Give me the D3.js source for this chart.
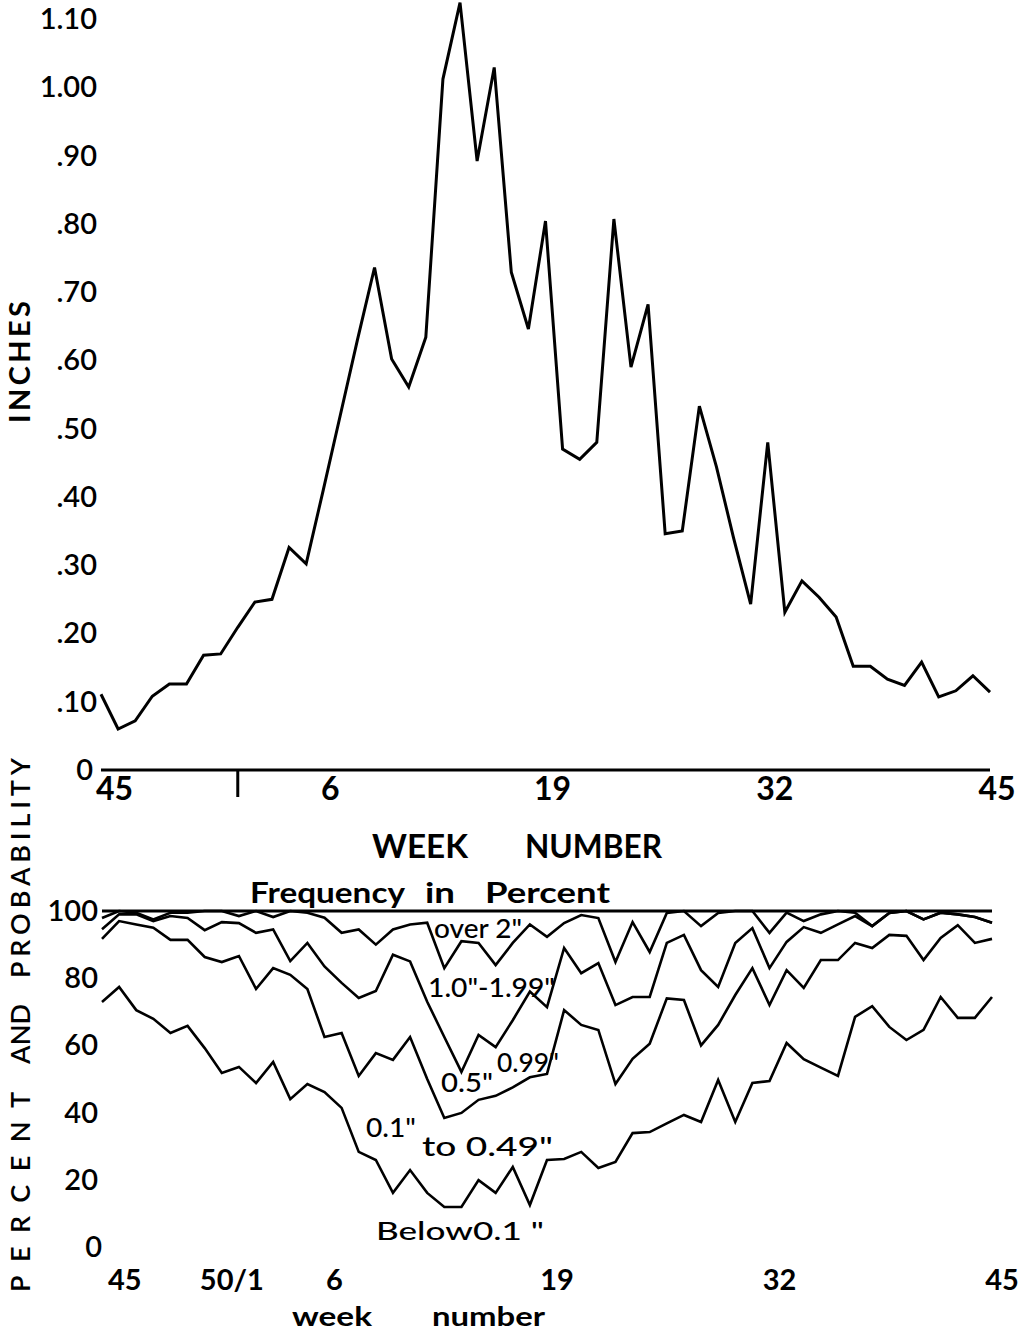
<!DOCTYPE html>
<html><head><meta charset="utf-8">
<script src="https://cdn.jsdelivr.net/npm/d3@7"></script>
<style>
html,body{margin:0;padding:0;background:#fff;}
text{font-family:Lato,"DejaVu Sans",sans-serif;fill:#000;}
</style></head>
<body>
<svg id="chart" width="1032" height="1333"></svg>
<script>
// ---- data ----
const weeks = [45,46,47,48,49,50,51,52,1,2,3,4,5,6,7,8,9,10,11,12,13,14,15,16,17,18,19,20,21,22,23,24,25,26,27,28,29,30,31,32,33,34,35,36,37,38,39,40,41,42,43,44,45];
const inches = [0.111,0.060,0.072,0.108,0.126,0.126,0.168,0.170,0.209,0.246,0.250,0.326,0.302,0.41,0.52,0.63,0.736,0.602,0.561,0.634,1.012,1.124,0.892,1.029,0.729,0.646,0.804,0.470,0.455,0.480,0.807,0.590,0.682,0.346,0.350,0.533,0.444,0.34,0.243,0.480,0.231,0.277,0.253,0.224,0.152,0.152,0.133,0.124,0.158,0.107,0.116,0.138,0.114];
// cumulative percent frequency boundaries
const below01 = [72.9,77.4,70.5,67.9,63.7,65.8,59.2,51.8,53.6,48.8,55.1,44.0,48.5,46.1,41.4,28.3,25.9,16.1,22.9,16.1,11.9,11.9,19.9,16.1,23.8,12.5,25.9,26.2,28.3,23.5,25.3,33.9,34.2,36.8,39.3,37.2,49.7,37.2,48.8,49.4,60.7,55.9,53.4,50.9,68.5,71.7,65.5,61.6,64.6,74.4,68.2,68.2,74.4];
const below05 = [91.7,97.0,96.0,95.0,91.4,91.4,86.3,84.8,86.6,76.8,83.0,81.0,76.8,62.5,63.7,50.9,57.7,55.7,62.5,50.0,38.4,39.9,43.8,45.0,47.5,50.5,51.5,70.5,66.1,64.6,48.5,56.0,60.5,74.0,73.5,60.0,66.1,75.0,83.0,72.0,82.4,77.1,85.4,85.4,90.5,89.0,92.9,92.6,85.4,92.0,95.8,90.5,91.7];
const below10 = [94.6,99.0,99.0,97.0,98.5,97.9,94.3,96.7,96.4,93.5,94.5,85.1,90.5,83.5,78.6,74.1,76.2,87.0,85.0,73.0,62.5,52.1,63.1,59.5,67.5,76.0,71.4,89.0,81.5,84.5,72.0,74.4,74.4,90.5,92.9,82.4,77.4,90.5,94.9,83.0,90.8,95.2,93.5,96.0,98.5,95.5,99.4,100,97.5,99.5,99.0,98.2,96.5];
const below20 = [97.9,100,99.5,97.5,99.5,99.5,100,100,98.5,100,98.2,100,99.5,98.0,93.5,94.5,90.0,94.5,96.0,96.5,83.0,91.0,90.5,83.9,90.5,96.0,92.3,96.4,98.8,97.9,84.8,96.7,87.8,99.4,100,95.5,99.4,100,100,93.5,99.5,97.0,99.0,100,99.5,95.5,99.4,100,97.5,99.5,99.0,98.2,96.5];
const total100 = weeks.map(() => 100);

const topYTicks = [0,0.1,0.2,0.3,0.4,0.5,0.6,0.7,0.8,0.9,1.0,1.1];
const topYLabels = ["0",".10",".20",".30",".40",".50",".60",".70",".80",".90","1.00","1.10"];
const topXTickIdx = [0,13,26,39,52];
const topXLabels = ["45","6","19","32","45"];
const topMinorTickIdx = [8];
const botYTicks = [0,20,40,60,80,100];
const botYLabels = ["0","20","40","60","80","100"];
const botXTickIdx = [0,7,13,26,39,52];
const botXLabels = ["45","50/1","6","19","32","45"];

// ---- drawing ----
const svg = d3.select("#chart");
svg.append("rect").attr("width",1032).attr("height",1333).attr("fill","#fff");

// helper for a word with fixed length
function word(x, y, t, fs, len, weight, anchor){
  const el = svg.append("text").attr("x",x).attr("y",y)
    .attr("font-size",fs).attr("font-weight",weight||700)
    .attr("text-anchor",anchor||"start").text(t);
  if (len) el.attr("textLength",len).attr("lengthAdjust","spacingAndGlyphs");
  return el;
}
function vword(cx, cy, t, fs, len, weight){
  return svg.append("text").attr("transform",`translate(${cx},${cy}) rotate(-90)`)
    .attr("text-anchor","middle").attr("font-size",fs).attr("font-weight",weight||700)
    .attr("textLength",len).attr("lengthAdjust","spacing").text(t);
}

// top panel
const xT = d3.scaleLinear().domain([0,52]).range([101,990]);
const yT = d3.scaleLinear().domain([0,1.1]).range([770,19]);

svg.append("line").attr("x1",xT(0)).attr("x2",xT(52)).attr("y1",yT(0)).attr("y2",yT(0))
  .attr("stroke","#000").attr("stroke-width",3);
svg.selectAll(".mt").data(topMinorTickIdx).enter().append("line")
  .attr("x1",d=>xT(d)).attr("x2",d=>xT(d)).attr("y1",yT(0)).attr("y2",yT(0)+27)
  .attr("stroke","#000").attr("stroke-width",3);

svg.selectAll(".tyl").data(topYTicks).enter().append("text")
  .attr("x",d=>d===0?93:97).attr("y",d=>yT(d)+10)
  .attr("text-anchor","end").attr("font-size",29).attr("font-weight",600)
  .text((d,i)=>topYLabels[i]);

svg.selectAll(".txl").data(topXTickIdx).enter().append("text")
  .attr("x",(d,i)=>i===0?xT(d)-5:xT(d)+7).attr("y",yT(0)+30)
  .attr("text-anchor",(d,i)=>i===0?"start":"middle")
  .attr("font-size",32).attr("font-weight",700)
  .text((d,i)=>topXLabels[i]);

svg.append("path").datum(inches)
  .attr("d", d3.line().x((d,i)=>xT(i)).y(d=>yT(d)))
  .attr("fill","none").attr("stroke","#000").attr("stroke-width",3).attr("stroke-linejoin","miter");

vword(30, 362, "INCHES", 29, 122, 700);

word(372, 858, "WEEK", 32, 96);
word(525, 858, "NUMBER", 32, 137);

word(250, 903, "Frequency", 28, 155);
word(425, 903, "in", 28, 30);
word(485, 903, "Percent", 28, 125);

// bottom panel
const xB = d3.scaleLinear().domain([0,52]).range([102,992]);
const yB = d3.scaleLinear().domain([0,100]).range([1247,911]);
const lineB = d3.line().x((d,i)=>xB(i)).y(d=>yB(d));

[total100, below20, below10, below05, below01].forEach((s,k)=>{
  svg.append("path").datum(s).attr("d",lineB)
    .attr("fill","none").attr("stroke","#000")
    .attr("stroke-width",k===0?3:2.6).attr("stroke-linejoin","miter");
});

svg.selectAll(".byl").data(botYTicks).enter().append("text")
  .attr("x",d=>d===0?102:98).attr("y",d=>yB(d)+10)
  .attr("text-anchor","end").attr("font-size",29).attr("font-weight",600)
  .text((d,i)=>botYLabels[i]);

svg.selectAll(".bxl").data(botXTickIdx).enter().append("text")
  .attr("x",(d,i)=>i===0?xB(d)+6:xB(d)+10).attr("y",1290)
  .attr("text-anchor",(d,i)=>i===0?"start":"middle")
  .attr("font-size",29).attr("font-weight",700)
  .text((d,i)=>botXLabels[i]);

word(292, 1326, "week", 27, 80);
word(432, 1326, "number", 27, 113);

vword(30, 1192, "PERCENT", 27, 200, 600);
vword(30, 1034, "AND", 27, 60, 600);
vword(30, 868, "PROBABILITY", 27, 220, 600);

// class labels
word(434, 938, "over 2\"", 26, 88, 500);
word(428, 997, "1.0\"-1.99\"", 26, 127, 500);
word(441, 1092, "0.5\"", 27, 52, 500);
word(497, 1072, "0.99\"", 27, 62, 500);
word(366, 1137, "0.1\"", 27, 50, 500);
word(422, 1156, "to 0.49\"", 27, 131, 500);
word(376, 1240, "Below0.1 \"", 25, 168, 500);
</script>
</body></html>
